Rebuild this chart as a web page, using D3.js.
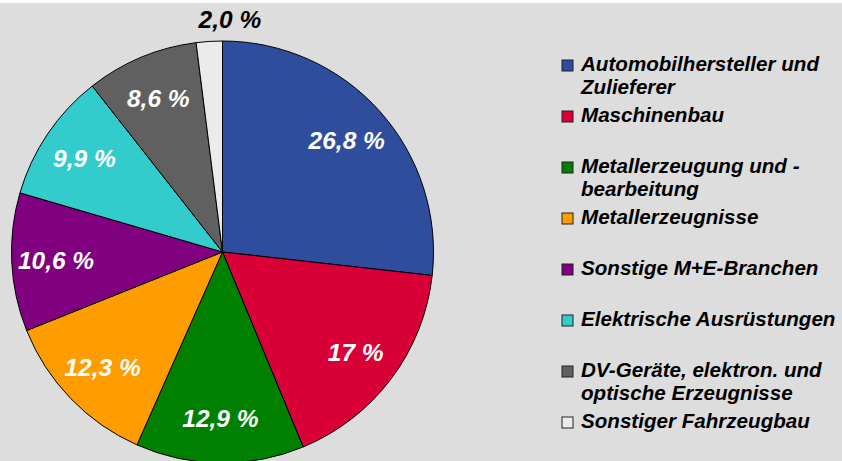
<!DOCTYPE html>
<html>
<head>
<meta charset="utf-8">
<script src="https://cdn.jsdelivr.net/npm/d3@7.9.0/dist/d3.min.js"></script>
<style>
  body { margin: 0; background: #fff; }
  svg { display: block; font-family: 'Liberation Sans', Arial, sans-serif; font-weight: bold; font-style: italic; }
</style>
</head>
<body>
<div id="chart"></div>
<script>
// Branchen und Anteile (in %)
const categories = [
  'Automobilhersteller und Zulieferer',
  'Maschinenbau',
  'Metallerzeugung und -bearbeitung',
  'Metallerzeugnisse',
  'Sonstige M+E-Branchen',
  'Elektrische Ausrüstungen',
  'DV-Geräte, elektron. und optische Erzeugnisse',
  'Sonstiger Fahrzeugbau'
];
const shares = [26.8, 17, 12.9, 12.3, 10.6, 9.9, 8.6, 2.0];
const shareLabels = ['26,8 %', '17 %', '12,9 %', '12,3 %', '10,6 %', '9,9 %', '8,6 %', '2,0 %'];
// legend text, split into lines as in the original
const legendLines = [
  ['Automobilhersteller und', 'Zulieferer'],
  ['Maschinenbau'],
  ['Metallerzeugung und -', 'bearbeitung'],
  ['Metallerzeugnisse'],
  ['Sonstige M+E-Branchen'],
  ['Elektrische Ausrüstungen'],
  ['DV-Geräte, elektron. und', 'optische Erzeugnisse'],
  ['Sonstiger Fahrzeugbau']
];
const colors = ['#2e4d9c', '#d80036', '#008000', '#ff9c00', '#800080', '#33cccc', '#606060', '#ebebeb'];

const width = 842;
const height = 461;
const cx = 222.5, cy = 252;
const radius = 211;

const svg = d3.select('#chart')
  .append('svg')
  .attr('width', width)
  .attr('height', height);

// grey plot background (thin white strip on top)
svg.append('rect')
  .attr('x', 0).attr('y', 3)
  .attr('width', width).attr('height', height - 3)
  .attr('fill', '#dddddd');

const color = d3.scaleOrdinal().domain(categories).range(colors);

const pie = d3.pie()
  .value((d, i) => shares[i])
  .sort(null);

const arcs = pie(categories);

const arc = d3.arc().innerRadius(0).outerRadius(radius);
const labelArc = d3.arc().innerRadius(radius * 0.79).outerRadius(radius * 0.79);
const outerArc = d3.arc().innerRadius(radius + 22).outerRadius(radius + 22);

const g = svg.append('g').attr('transform', `translate(${cx},${cy})`);

g.selectAll('path')
  .data(arcs)
  .join('path')
  .attr('d', arc)
  .attr('fill', (d) => color(d.data))
  .attr('stroke', '#000')
  .attr('stroke-width', 1);

// Prozentwerte: innen weiss, kleine Scheibe aussen schwarz
g.selectAll('text.val')
  .data(arcs)
  .join('text')
  .attr('class', 'val')
  .each(function (d) {
    const small = shares[d.index] < 5;
    const [x, y] = small ? outerArc.centroid(d) : labelArc.centroid(d);
    d3.select(this)
      .attr('x', small ? x + 22 : x)
      .attr('y', y)
      .attr('fill', small ? '#000' : '#fff');
  })
  .attr('text-anchor', 'middle')
  .attr('dy', '0.35em')
  .attr('font-size', 24.5)
  .text((d) => shareLabels[d.index]);

// Legende
const legendY = d3.scalePoint()
  .domain(categories)
  .range([71, 428]);

const legend = svg.append('g').attr('class', 'legend');

const item = legend.selectAll('g')
  .data(categories)
  .join('g')
  .attr('transform', (d) => `translate(562,${legendY(d)})`);

item.append('rect')
  .attr('x', 0)
  .attr('y', -11)
  .attr('width', 11)
  .attr('height', 11)
  .attr('fill', (d) => color(d))
  .attr('stroke', '#222')
  .attr('stroke-width', 1);

item.append('text')
  .attr('x', 19)
  .attr('font-size', 20.6)
  .attr('fill', '#000')
  .selectAll('tspan')
  .data((d, i) => legendLines[i])
  .join('tspan')
  .attr('x', 19)
  .attr('dy', (d, i) => (i === 0 ? 0 : 23))
  .text((d) => d);
</script>
</body>
</html>
